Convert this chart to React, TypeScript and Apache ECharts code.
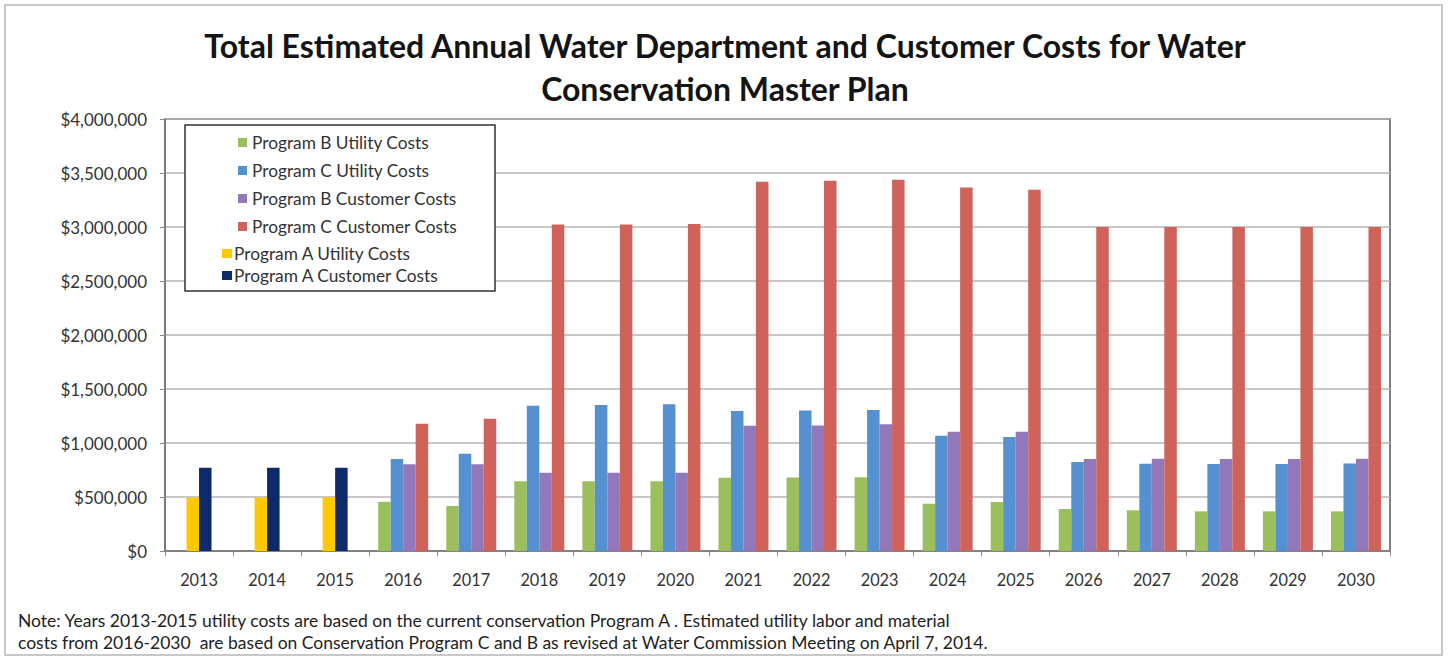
import React, { useEffect, useRef } from "react";
import * as echarts from "echarts";

const years = ["2013","2014","2015","2016","2017","2018","2019","2020","2021","2022","2023","2024","2025","2026","2027","2028","2029","2030"];
const progBUtility = [null,null,null,456000,417000,645000,645000,645000,679000,680000,682000,438000,454000,389000,377000,367000,367000,367000];
const progCUtility = [null,null,null,852000,901000,1345000,1352000,1358000,1296000,1300000,1306000,1068000,1056000,824000,809000,806000,806000,810000];
const progBCustomer = [null,null,null,803000,803000,725000,725000,725000,1160000,1163000,1173000,1105000,1105000,852000,854000,852000,852000,854000];
const progCCustomer = [null,null,null,1179000,1225000,3022000,3024000,3027000,3419000,3428000,3438000,3365000,3344000,3000000,3000000,3000000,3000000,3000000];
const progAUtility = [495000,495000,498000,null,null,null,null,null,null,null,null,null,null,null,null,null,null,null];
const progACustomer = [770000,770000,770000,null,null,null,null,null,null,null,null,null,null,null,null,null,null,null];

const yTicks = { min: 0, max: 4000000, interval: 500000 };

const titleText = "Total Estimated Annual Water Department and Customer Costs for Water\nConservation Master Plan";
const noteText = "Note: Years 2013-2015 utility costs are based on the current conservation Program A . Estimated utility labor and material\ncosts from 2016-2030  are based on Conservation Program C and B as revised at Water Commission Meeting on April 7, 2014.";

const names = {
  bU: "Program B Utility Costs",
  cU: "Program C Utility Costs",
  bC: "Program B Customer Costs",
  cC: "Program C Customer Costs",
  aU: "Program A Utility Costs",
  aC: "Program A Customer Costs",
};

const FONT = "Lato, 'Open Sans', sans-serif";

export default function App() {
  const ref = useRef<HTMLDivElement>(null);
  useEffect(() => {
    if (!ref.current) return;
    const chart = echarts.init(ref.current, null, { renderer: "svg" });
    const bw = 12.5;
    const bar = (name: string, data: (number | null)[], color: string, stack?: string) => ({
      name,
      type: "bar",
      data: data.map((v) => (v == null ? "-" : v)),
      barWidth: bw,
      barGap: "0%",
      stack,
      itemStyle: { color },
      z: 2,
    });
    chart.setOption({
      animation: false,
      backgroundColor: "#ffffff",
      title: {
        text: titleText,
        left: "center",
        top: 19,
        textStyle: { fontFamily: FONT, fontWeight: "bold", fontSize: 32, lineHeight: 43, color: "#141414" },
      },
      grid: {
        left: 165,
        right: 60,
        top: 119,
        bottom: 107,
        show: true,
        borderColor: "#5a5a5a",
        borderWidth: 1.5,
        backgroundColor: "transparent",
      },
      legend: [
        {
          orient: "vertical",
          left: 233,
          top: 129,
          itemWidth: 9,
          itemHeight: 9,
          itemGap: 11,
          icon: "rect",
          z: 6,
          textStyle: { fontFamily: FONT, fontSize: 17.3, color: "#333" },
          data: [names.bU, names.cU, names.bC, names.cC],
        },
        {
          orient: "vertical",
          left: 217,
          top: 240,
          itemWidth: 10,
          itemHeight: 9,
          itemGap: 5,
          icon: "rect",
          z: 6,
          textStyle: { fontFamily: FONT, fontSize: 17.3, color: "#333", padding: [0, 0, 0, -3] },
          data: [names.aU, names.aC],
        },
      ],
      xAxis: {
        type: "category",
        data: years,
        axisLine: { show: true, lineStyle: { color: "#777", width: 1.5 } },
        axisTick: { show: true, length: 5, lineStyle: { color: "#888" } },
        axisLabel: { fontFamily: FONT, fontSize: 16.3, color: "#333", margin: 20 },
      },
      yAxis: {
        type: "value",
        min: yTicks.min,
        max: yTicks.max,
        interval: yTicks.interval,
        axisLine: { show: true, lineStyle: { color: "#777", width: 1.5 } },
        axisTick: { show: true, length: 5, lineStyle: { color: "#888" } },
        splitLine: { show: true, lineStyle: { color: "#b4b4b4", width: 1.5 } },
        axisLabel: {
          fontFamily: FONT,
          fontSize: 17,
          color: "#333",
          margin: 18,
          formatter: (v: number) => "$" + v.toLocaleString("en-US"),
        },
      },
      graphic: [
        {
          type: "rect",
          shape: { x: 5, y: 5, width: 1437, height: 650 },
          style: { fill: "none", stroke: "#c8c8c8", lineWidth: 2 },
          silent: true,
          z: 0,
        },
        {
          type: "rect",
          shape: { x: 185, y: 125, width: 310, height: 166 },
          style: { fill: "#ffffff", stroke: "#333333", lineWidth: 1.5 },
          silent: true,
          z: 5,
        },
        {
          type: "text",
          left: 18,
          top: 609,
          style: { text: noteText, fontFamily: FONT, fontSize: 17.5, lineHeight: 22, fill: "#222" },
          silent: true,
        },
      ],
      series: [
        bar(names.bU, progBUtility, "#9CBF5E"),
        bar(names.cU, progCUtility, "#5590D0", "s2"),
        bar(names.bC, progBCustomer, "#9278B9", "s3"),
        bar(names.cC, progCCustomer, "#D0625C"),
        bar(names.aU, progAUtility, "#FFC800", "s2"),
        bar(names.aC, progACustomer, "#0F2A6B", "s3"),
      ],
    });
    return () => chart.dispose();
  }, []);
  return (
    <div
      ref={ref}
      style={{ position: "fixed", left: 0, top: 0, width: 1450, height: 658, background: "#fff" }}
    />
  );
}
